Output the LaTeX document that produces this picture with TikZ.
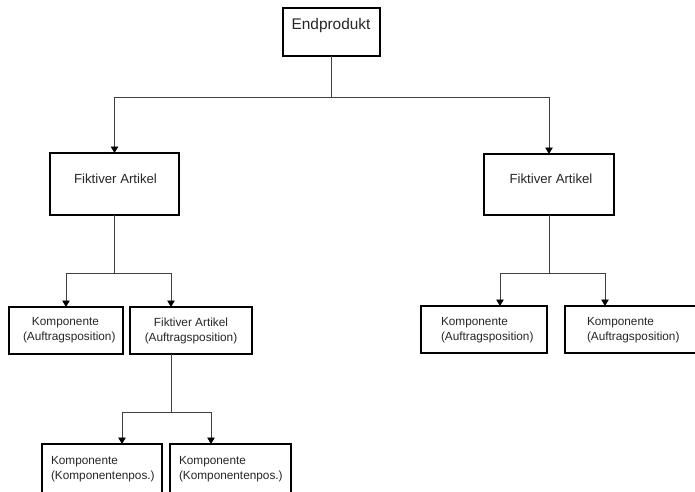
\documentclass[tikz,border=0pt]{standalone}
\usepackage{fontspec}
\setmainfont{Liberation Sans}
\usetikzlibrary{arrows.meta}
\begin{document}
\begin{tikzpicture}[x=1pt,y=-1pt,
  box/.style={draw=black, line width=1.6pt, inner sep=0pt, outer sep=0pt, fill=white},
  txt/.style={inner sep=0pt, outer sep=0pt, text=black!85},
  big/.style={txt, font=\fontsize{15.4}{18}\selectfont},
  mid/.style={txt, font=\fontsize{13.2}{15}\selectfont},
  small/.style={txt, font=\fontsize{11.8}{15}\selectfont, align=left},
  conn/.style={draw=black!75, line width=0.9pt},
  arr/.style={conn, -{Triangle[width=7.5pt,length=6.5pt,color=black]}}]
\useasboundingbox (0,0) rectangle (695,491);
\clip (0,0) rectangle (695,491);
\fill[white] (0,0) rectangle (695,491);

% boxes
\node[box, minimum width=97pt, minimum height=48pt] (E) at (331.5,32) {};
\node[box, minimum width=129pt, minimum height=62pt] (F1) at (114.5,184) {};
\node[box, minimum width=130pt, minimum height=61pt] (F2) at (549,184.5) {};
\node[box, minimum width=114pt, minimum height=47pt] (K1) at (66,330.5) {};
\node[box, minimum width=122pt, minimum height=47pt] (FA) at (191,330.5) {};
\node[box, minimum width=126pt, minimum height=47pt] (K2) at (484,329.5) {};
\node[box, minimum width=135pt, minimum height=47pt] (K3) at (632.5,329.5) {};
\node[box, minimum width=120pt, minimum height=51pt] (B1) at (102,469.5) {};
\node[box, minimum width=121pt, minimum height=51pt] (B2) at (230.5,469.5) {};

% texts
\node[big] (tE) at (331,26) {Endprodukt};
\node[mid] (tF1) at (115.5,179) {Fiktiver Artikel};
\node[mid] (tF2) at (551,179) {Fiktiver Artikel};
\node[small, anchor=west] (tK1) at (23,330.5) {\hspace*{9pt}Komponente\\(Auftragsposition)};
\node[small, align=center] (tFA) at (191,330.5) {Fiktiver Artikel\\(Auftragsposition)};
\node[small, anchor=west] (tK2) at (441,330.5) {Komponente\\(Auftragsposition)};
\node[small, anchor=west] (tK3) at (587,330.5) {Komponente\\(Auftragsposition)};
\node[small, anchor=west] (tB1) at (51,469) {Komponente\\(Komponentenpos.)};
\node[small, anchor=west] (tB2) at (179,469) {Komponente\\(Komponentenpos.)};

% connectors
\draw[conn] (E.south) -- ++(0,41) coordinate (j0);
\draw[arr] (j0) -| (F1.north);
\draw[arr] (j0) -| (F2.north);

\draw[conn] (F1.south) -- ++(0,58) coordinate (j1);
\draw[arr] (j1) -| (K1.north);
\draw[arr] (j1) -| ([xshift=-20pt]FA.north);

\draw[conn] ([xshift=-20pt]FA.south) -- ++(0,58) coordinate (j2);
\draw[arr] (j2) -| ([xshift=20pt]B1.north);
\draw[arr] (j2) -| ([xshift=-19.5pt]B2.north);

\draw[conn] (F2.south) -- ++(0,58) coordinate (j3);
\draw[arr] (j3) -| ([xshift=16pt]K2.north);
\draw[arr] (j3) -| ([xshift=-27.5pt]K3.north);
\end{tikzpicture}
\end{document}
